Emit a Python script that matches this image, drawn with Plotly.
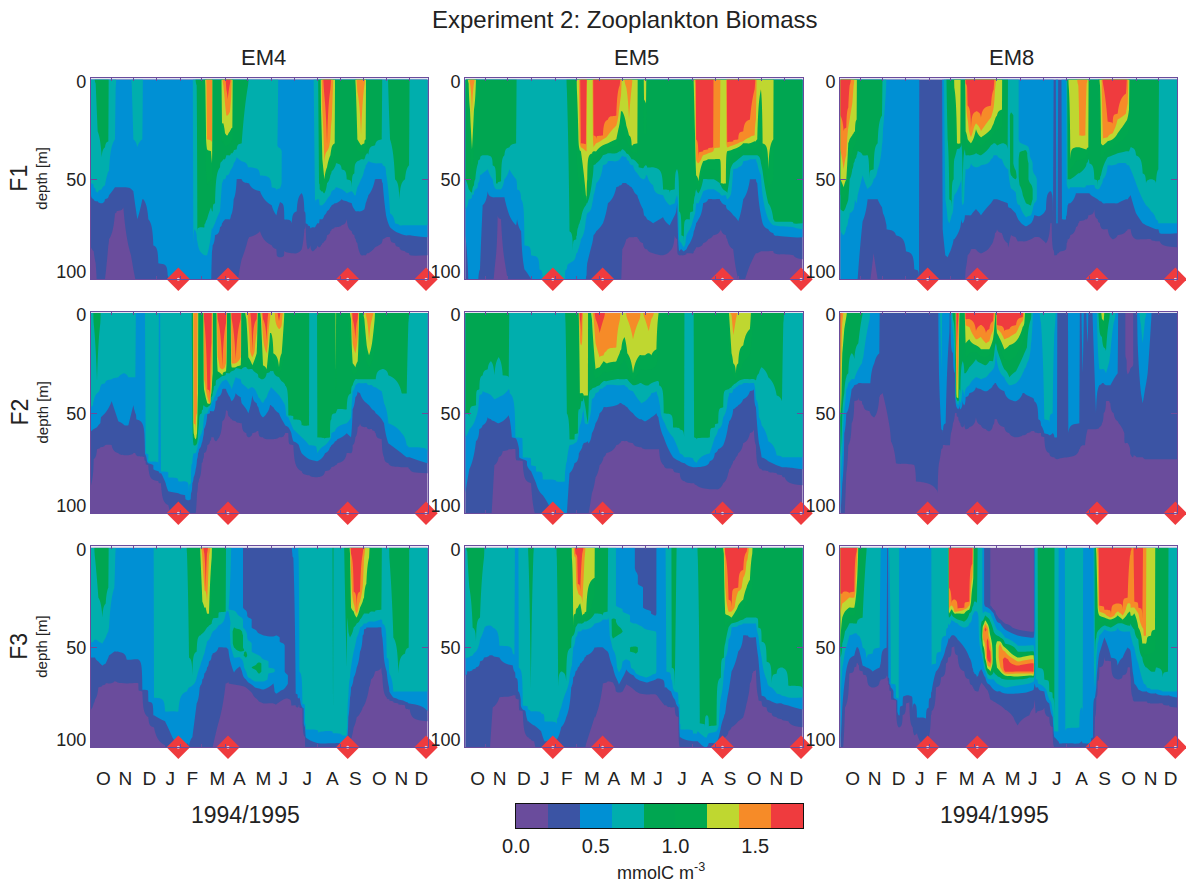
import numpy as np
import plotly.graph_objects as go

TITLE = "Experiment 2: Zooplankton Biomass"
COLUMNS = ["EM4", "EM5", "EM8"]
ROWS = ["F1", "F2", "F3"]
MONTH_LABELS = list("ONDJFMAMJJASOND")
MONTH_LABEL_POS = [55, 121, 193, 256, 322, 397, 463, 535, 595, 667, 742, 811, 883, 949, 1009]
MONTH_TICKS = [78, 145, 215, 287, 350, 420, 488, 558, 627, 697, 767, 835, 905, 973]
CRUISES = [280, 429, 788, 1023]
COLORS = ["#6A4C9C", "#3B54A4", "#0090D4", "#00AEAD", "#00A651", "#00A84F", "#BFD730", "#F68B28", "#EF3B3E"]
# isolines: purple/dkblue, dkblue/blue, blue/teal, teal/green, green/yellow, yellow/orange, orange/red
LEVELS = [0.2, 0.4, 0.6, 0.8, 1.2, 1.4, 1.6]

# each column: time position, then depths [m] of the isolines from the deepest upward
EM4_F1 = [(18,84,58,52),(26,86,60,54),(32,92,61,56,2),(38,110,61,57,26),(50,105,62,55,39),(60,100,60,53,34),(70,83,59,46,31),(72,80,58,46),(90,67,54,30),(92,67,54,4),(95,66,54),(115,64,54),(138,88,55),(140,90,55,2),(145,95,56,30),(157,105,70,34),(172,105,60,30),(175,105,60),(190,105,70),(205,105,83),(220,105,92),(248,105,98),(250,105,105),(322,105,105),(325,105,105,85),(328,105,105,75),(335,105,105,78,3),(337,105,105,81,76),(345,105,105,86,74),(358,105,105,88,74),(361,105,105,88,72,3),(366,105,105,88,70,35,30),(378,105,105,78,64,36,31),(381,105,86,74,66,42,31),(383,105,83,75,66),(390,105,78,72,62),(405,105,74,66,44),(411,105,72,52,41,22),(415,105,71,50,40,22,3),(420,105,70,50,40,27,12),(424,105,70,48,38,28,18,5),(428,105,70,48,38,28,18,10),(435,105,70,46,38,26,16,2),(438,105,68,45,37,25,10),(442,105,66,44,37,24),(446,105,60,42,36),(455,105,50,39,35),(470,90,50,41,32),(489,80,52,44,3),(492,79,52,44),(525,76,56,48),(560,83,63,54),(574,85,68,56),(585,[(0,.5),(33,.5),(36,.7),(52,.7),(57,.5),(66,.3),(88,.3),(90,.1)]),(598,86,70),(620,87,72),(635,87,66),(650,85,57),(658,75,66),(662,72,72),(668,85,73),(676,83,75),(682,86,74),(690,85,74,62),(697,83,72,60),(702,84,72,60,52),(704,84,70,63,55),(708,83,70,63,56,15),(712,82,70,63,56,40,15),(718,81,68,62,57,50,42,8),(726,78,66,60,52,44,36,33),(736,76,64,58,48,38,30,5),(740,75,63,56,46,34,20),(749,74,62,55,44,32),(753,74,62,54,42),(770,73,60,55,45),(785,70,61,57,50),(800,76,62,56,54),(808,78,65,58,47),(812,80,66,58,42,3),(817,82,66,54,41,30,6),(828,88,66,50,40,33,28),(838,88,65,45,40,32,3),(842,88,62,43,38,30),(846,87,60,42,37),(850,87,58,41,38),(870,84,50,42,33),(890,82,50,42,30),(893,80,52,43),(903,79,68,47),(915,79,74,67,30),(930,82,76,72,50),(943,84,77,73,60),(960,86,78,73,50),(972,87,78,73,43),(975,88,78,73),(1028,88,79,73)]

EM5_F1 = [(18,100,78,65,50),(28,105,105,60,55,2),(32,105,105,60,56,15,2),(38,105,105,58,57,35,18),(44,105,105,56,53,15,2),(48,105,105,55,50,8),(56,105,105,52,42),(62,105,95,48,40),(70,105,63,47,38),(85,105,56,45,38),(100,105,59,50,43),(110,88,59,55,52),(115,68,59,55,52),(125,70,59,55,51),(135,90,59,50,38),(150,105,68,45,34),(170,105,73,50,32),(173,105,70,55),(185,105,76,60),(195,105,95,83),(215,105,100,88),(240,105,105,95),(250,105,105,105),(316,105,105,105),(320,105,105,95),(322,105,105,95,5),(330,105,105,92,76),(340,105,105,91,86),(350,105,105,87,80),(352,105,105,87,78,5),(356,105,105,85,74,25),(360,105,105,83,72,35,30),(364,105,103,80,70,36,34,32),(379,105,100,70,63,58,36,33),(381,105,98,68,62,61,36,3),(383,105,92,67,62,50),(398,105,82,62,50,37),(402,105,78,58,43,36,34,28),(410,105,76,52,42,36,32,30),(430,105,72,43,38,33,30,28),(445,105,62,41,37,32,28,20),(470,105,54,41,37,30,23,18),(480,105,53,40,36,22,13,3),(484,105,53,39,36,16,8),(488,85,52,38,35,16),(500,80,52,39,37,23,4),(508,79,53,41,38,28,20),(516,79,54,43,40,33,4),(520,79,55,43,40,33),(533,79,58,47,42,32),(537,80,60,48,44),(550,82,65,50,45),(553,84,68,50,44,10),(559,85,69,48,43,12),(562,85,70,48,44),(580,87,72,53,44),(610,88,69,58,55),(630,86,73,63,57),(645,78,68,62,55),(652,80,62,58,45),(658,88,86,80,66),(665,88,85,82,78),(672,88,86,84,82),(680,87,85,78,70),(690,87,82,75,70),(700,87,78,70,66),(702,86,76,69,62,3),(706,85,74,67,58,30,2),(709,84,72,62,55,48,40,30),(716,84,70,62,57,51,42,40),(730,82,62,56,50,41,38,36),(745,80,60,55,50,40,37,35),(760,78,60,55,50,40,36,34),(762,78,60,55,50,40,35),(780,76,60,57,52,40,34),(783,75,61,58,53,52),(798,78,63,58,56,52),(802,80,65,60,57,36,34,32),(820,85,68,45,42,35,33,31),(835,100,71,44,40,34,32,30),(850,103,60,41,38,32,31,26),(870,93,50,40,38,32,29,20),(884,88,50,40,38,31,28,5),(888,87,50,40,38,31,20),(892,87,52,42,38,30),(903,86,68,48,42,5),(908,86,72,58,46,32),(925,86,75,70,62,45),(940,86,77,73,70,30),(943,87,78,73,71),(1000,88,79,74,72),(1028,90,79,75,72)]

EM8_F1 = [(18,105,105,75,65,50,35,18),(28,105,105,78,66,54,45,26),(36,105,105,74,63,50,38,24),(42,105,105,70,60,32,24,14),(46,105,105,67,50,30,20,3),(54,105,105,66,45,28,12),(58,105,105,65,42,27,3),(62,105,105,60,40,26),(67,105,105,62,38,20),(70,105,100,58,36),(85,105,71,48,38),(100,105,60,55,38),(105,105,60,54,50),(118,87,60,50,45),(130,100,60,45,32),(143,105,64,33,18),(146,105,67,25),(155,105,72,5),(157,105,75),(185,105,78),(215,105,86),(240,105,95),(254,105,100),(256,105),(322,105),(325,105,75),(333,105,88,60),(340,105,89,70,30),(345,105,87,72,60),(352,105,84,68,64),(358,105,80,60,50),(360,105,80,58,40,4),(368,105,78,56,35,32),(378,105,74,52,34,32),(381,105,70,50,32),(385,105,72,63,61),(392,100,68,50,35),(394,95,68,45,38,26,4,2),(400,88,68,45,38,30,20,13),(410,85,68,42,38,32,29,25),(425,85,65,44,37,25,22,16),(440,87,68,43,38,29,26,19),(470,83,62,40,33,25,19,13),(478,80,60,38,32,22,14,5),(482,77,60,38,32,20,5),(488,75,60,38,33,18),(503,77,61,40,32,15),(505,78,61,41,32),(520,82,62,45,35,),(522,84,64,45),(530,[(0,.7),(15,.7),(18,.9),(46,.9),(50,.7),(59,.5),(70,.3),(86,.1)]),(544,[(0,.7),(42,.7),(49,.9),(51,.7),(62,.5),(72,.3),(86,.1)]),(550,[(0,.7),(60,.7),(65,.5),(74,.3),(88,.1)]),(556,[(0,.5),(30,.5),(33,.7),(40,.9),(48,.9),(58,.7),(68,.5),(74,.3),(88,.1)]),(575,[(0,.5),(32,.5),(34,.7),(37,.9),(58,.9),(66,.7),(72,.5),(75,.3),(87,.1)]),(590,[(0,.5),(38,.5),(42,.7),(50,.7),(55,.9),(60,.9),(66,.7),(70,.5),(74,.3),(86,.1)]),(600,[(0,.5),(45,.5),(50,.7),(60,.7),(64,.5),(72,.3),(86,.1)]),(615,[(0,.5),(65,.5),(72,.3),(86,.1)]),(635,82,65),(648,72,56),(652,72,57),(656,85,70),(660,88),(663,88),(666,88,72),(670,87,72),(673,87),(680,86),(683,86,70),(695,85,70),(697,82,68,52),(700,80,63,54,50),(703,80,62,55,50,3),(708,78,62,54,50,40),(725,74,57,54,48,34),(732,72,57,54,47,34,3),(735,71,57,54,47,34,28),(753,70,57,54,44,35,28),(757,70,57,53,42,35,2),(762,68,57,53,40,34),(765,68,57,53,42),(780,65,59,53,50),(790,70,60,55,54),(797,72,61,54,50,3),(800,74,61,53,48,32),(806,75,62,50,44,33,30,2),(820,75,62,43,39,31,29,21),(835,80,62,43,38,30,27,22),(850,78,62,42,37,27,20,17),(875,76,60,42,36,21,17,7),(880,75,60,43,36,19,12),(884,75,59,43,36,15),(889,75,58,45,34),(905,80,67,52,38),(925,80,72,60,47),(935,80,73,63,52),(950,80,74,66,50),(965,81,75,70,52),(972,81,75,72,45),(976,81,77,72),(1028,84,77,72)]

EM4_F2 = [(18,86,59,48),(24,80,58,46),(26,73,58,44,5),(36,68,57,40,34),(46,67,55,37,5),(48,67,52,36),(60,66,50,35),(80,66,44,33),(100,70,54,32),(118,71,56,30),(130,71,56,32),(145,70,46,32),(151,70,50,32),(154,71,53),(178,72,60),(182,74,71,70),(190,76,75,74),(220,84,79,78),(223,85,80),(228,85,80,79),(250,96,89,82),(280,105,90,84),(300,105,91,84),(312,105,92,93),(318,105,90,85),(322,105,85,75,35),(326,105,82,70,66,60,55),(332,100,78,70,66,63,62),(336,90,73,68,65,60,50),(339,85,70,66,60,40),(342,83,68,64,55),(350,75,65,60,50),(354,73,62,58,48),(357,70,58,52,46,38,33,3),(367,66,50,50,47,45,42,38),(375,64,49,47,46,45,45,44),(379,62,49,45,42,40,36,15),(383,62,49,44,40,30),(386,62,49,43,38),(392,64,44,41,36),(398,63,42,38,33,29,22,3),(412,54,38,34,31,31,28,27),(423,48,38,33,30,29,25,5),(428,49,40,34,30),(435,52,42,36,30),(440,53,44,38,29,27,25,3),(452,54,40,32,27,27,25,23),(467,55,42,33,28,26,22,3),(470,55,45,35,28),(484,60,48,37,27,3),(490,62,50,38,28,22,5),(502,60,41,37,28,26,22,19),(515,59,45,40,30,20,10,3),(520,59,47,42,32),(528,62,51,44,33,3),(534,62,52,45,33,26,12,3),(545,63,50,42,30,28,20,14),(555,63,46,38,29,10,3),(558,63,46,37,29,10),(565,63,47,38,29,20),(582,62,50,41,32,27,8,4),(590,62,53,43,34,20,6),(597,61,55,45,35,3),(600,60,56,46,36),(610,60,57,52,51),(625,66,64,58,53),(650,79,70,62,56),(672,81,73,66,56),(673,81,73,66),(695,82,74,68),(697,82,74,70,62),(720,79,70,66,63),(735,78,67,63,62),(739,77,66,60,53),(750,76,64,59,50),(752,76,64,58,50,30),(757,75,63,57,48),(785,70,60,55,48),(798,70,62,52,40,3),(803,66,48,39,36,25,15,3),(811,62,42,36,33,27,20,13),(818,57,39,35,33,24,12,3),(825,55,40,35,33),(838,57,44,35,33,3),(845,57,45,35,33,16,3),(852,58,46,36,33,21,15),(861,58,48,36,33,15,3),(869,59,49,37,33,3),(872,60,50,37,33),(890,63,53,39,28),(897,72,55,45,28),(910,75,65,55,31),(950,77,70,60,40),(965,77,72,66,40),(970,77,72,67,5),(974,78,72,67),(1028,80,75,70)]

EM5_F2 = [(18,105,90,62,50),(30,105,78,58,52),(50,105,64,52,46),(60,105,58,41,38),(70,105,56,39,31),(85,105,52,40,28),(95,105,53,41,24),(105,76,54,43,31),(118,72,55,42,22),(130,69,54,41,31),(148,68,51,38,32),(151,68,53,40),(168,68,62,62),(190,74,73,72),(215,85,79,76),(230,102,85,79),(250,105,91,83),(290,105,105,84),(316,105,105,84),(318,105,105,78,5),(322,105,100,74,50),(330,105,80,66,63),(345,105,75,65,63),(355,105,73,62,60),(358,105,70,58,48,3),(361,105,69,56,48,40,10,3),(365,105,68,54,44,40,16,12),(369,105,66,50,44,40,4),(372,105,65,48,42,41),(385,103,64,55,55,41),(387,100,65,54,48),(397,90,60,43,38,3),(408,82,55,40,37,28,15,3),(420,76,50,38,36,27,22,10),(432,72,47,37,34,24,21,3),(440,70,47,36,34,25,19),(470,66,46,36,33,24,17),(480,65,45,36,33,20,4),(485,64,45,36,33,18),(495,64,46,36,33,12),(503,64,47,37,33,20,3),(520,65,50,39,36,30,13),(540,67,53,44,35,21,3),(545,67,53,45,35,21),(556,68,54,44,36,21,3),(567,68,53,42,36,20,9),(575,68,52,40,35,21,3),(590,68,50,39,34,18),(596,68,52,42,34,1),(598,68,54,44,36),(612,76,62,54,50),(640,78,72,62,57),(660,80,74,70,58),(673,84,75,72,62),(675,84,75,72),(700,85,77,73),(703,85,77,74,62),(710,86,77,75,63),(750,88,74,70,62),(765,88,70,62,57),(775,88,68,58,55),(790,85,66,52,47),(805,80,56,42,38),(808,78,54,40,38,2),(815,76,52,40,37,20,1),(820,74,48,38,36,25,11),(828,72,47,37,35,30,3),(835,70,46,36,34,25),(850,65,43,35,33,16),(870,60,39,35,33,8),(882,58,38,35,33),(888,66,47,43,34),(897,77,65,52,30),(905,78,72,56,27),(925,79,74,64,32),(950,80,76,71,41),(966,81,77,72,44),(970,82,77,72,5),(974,82,77,72),(1028,86,78,72)]

EM8_F2 = [(18,105,100,88,72,52,48,40),(24,105,85,70,50,20,5),(30,105,60,48,40,8),(36,80,50,38,32,2),(42,66,48,35,30),(52,55,38,33,20),(60,44,36,33,23),(72,42,35,28,15),(83,44,35,25,2),(87,46,35,22),(106,49,35,3),(108,50,35),(120,52,25),(135,42,20),(137,41),(145,40),(165,56),(170,64),(185,75),(240,76),(245,84),(305,88),(310,90),(314,75,30),(321,68,58,28),(326,66,60),(334,66,55),(345,66,10),(347,66),(350,60,15),(356,55,20,10,3),(362,50,30,25,15),(367,50,47,45,43,42,40,20),(372,52,48,46,44,43,25,3),(375,54,46,42,38,3),(378,55,48,45,42),(385,57,44,38,24),(390,55,46,42,30),(394,58,42,38,30,15,6,3),(405,57,40,36,27,13,7,3),(425,52,37,32,23,16,13,9),(440,56,38,33,25,18,12,6),(455,58,39,32,26,18,15,10),(465,59,38,30,24,18,14,8),(476,56,36,28,24,13,9,4),(481,53,35,26,18,5,2),(485,53,35,18,15),(488,53,36,24,18,10,8,6),(510,57,39,32,28,18,13,9),(525,60,43,36,32,16,12,8),(545,62,44,35,29,14,10,6),(565,61,40,30,22,7,4,2),(570,61,40,28,20,5),(578,60,41,25,17),(590,59,42,15,3),(592,59,42,12),(600,59,44),(612,60,53),(620,60,56,5),(630,62,60,53),(645,70,61,55),(655,72,60,50),(660,72,62,10),(668,73,62),(670,73),(700,72),(702,72,60),(735,68,55),(738,67),(745,66,30),(752,66),(760,58,15),(764,58),(785,58,50),(795,57,36,28,8),(803,55,35,28,12,3),(808,50,35,28,17,4),(815,44,36,30,19),(825,44,36,24,3),(828,45,36,20),(838,50,33,5),(850,54,30),(853,55),(870,60),(872,[(0,.3),(63,.3),(67,.1)]),(874,[(0,.1),(20,.1),(24,.3),(63,.3),(67,.1)]),(880,[(0,.1),(28,.1),(33,.3),(62,.3),(68,.1)]),(895,[(0,.1),(25,.1),(28,.3),(70,.3),(74,.1)]),(898,71),(907,72),(910,72,15),(920,72,40,6),(925,72,45,15),(932,73,38,3),(940,73,30),(950,73,5),(953,73),(1028,73)]

EM4_F3 = [(18,81,55,48),(26,78,55,47),(30,76,55,46,5),(40,70,57,47,25),(52,69,59,48,35),(62,68,58,45,28),(70,68,55,42,20),(72,68,54,40),(88,67,52,20),(91,67,52,3),(93,67,52),(125,68,56),(160,68,56),(172,72,71),(190,85,77),(205,90,84),(207,90,84,75),(240,99,87,82),(262,105,95,82),(280,105,105,82),(304,105,100,72),(306,105,98,72,3),(312,105,100,70,55),(322,105,95,69,64),(335,105,78,65,52),(344,105,70,60,44),(346,105,69,59,44,3),(352,105,66,56,43,27,5),(358,105,63,53,42,30,20,3),(362,105,62,50,41,30,22,21),(366,105,60,47,40,33,28,3),(372,105,57,46,39,33,4),(380,105,54,43,38,5),(383,100,53,42,36),(400,88,50,39,35),(422,68,50,33,32),(424,68,50,32),(430,67,51,32),(447,[(0,.5),(30,.5),(33,.7),(38,.7),(42,.9),(48,.9),(52,.7),(58,.5),(67,.3),(70,.1)]),(465,[(0,.5),(33,.5),(36,.7),(40,.7),(42,.9),(51,.9),(53,.7),(57,.5),(62,.3),(68,.3),(70,.1)]),(483,[(0,.3),(30,.3),(33,.5),(40,.5),(44,.7),(50,.7),(54,.9),(56,.7),(60,.7),(64,.5),(68,.3),(72,.1)]),(490,[(0,.3),(34,.3),(36,.5),(45,.5),(48,.7),(64,.7),(66,.5),(69,.3),(73,.1)]),(510,[(0,.3),(40,.3),(42,.5),(52,.5),(54,.7),(58,.7),(60,.9),(62,.7),(66,.7),(68,.5),(72,.3),(78,.1)]),(522,[(0,.3),(42,.3),(44,.5),(53,.5),(55,.7),(57,.7),(58,.9),(62,.9),(64,.7),(66,.7),(68,.5),(73,.3),(81,.1)]),(536,[(0,.3),(43,.3),(45,.5),(55,.5),(57,.7),(66,.7),(68,.5),(74,.3),(82,.1)]),(565,[(0,.3),(43,.3),(46,.5),(60,.5),(61,.7),(62,.7),(63,.5),(73,.3),(83,.1)]),(573,[(0,.3),(43,.3),(45,.5),(72,.5),(74,.3),(83,.1)]),(595,[(0,.3),(47,.3),(49,.5),(70,.5),(72,.3),(80,.1)]),(603,[(0,.3),(62,.3),(64,.5),(68,.5),(71,.3),(80,.1)]),(619,79),(622,79,3),(625,79,5),(632,79,73),(638,80,75),(641,79,76,5),(643,79,75,62),(652,80,80,78),(660,95,90,88),(662,105,95,91),(700,105,98,93),(741,105,98,92),(744,105,98,93,81),(747,105,98,93),(770,105,98,94),(785,105,100,94,60),(787,103,95,90,35),(790,100,85,75,42),(795,97,75,65,45,3),(798,96,70,60,44,30,12,3),(806,90,65,52,40,32,28,22),(815,85,60,45,38,35,33,31),(825,83,52,40,36,30,27,22),(833,80,44,39,34,27,20,3),(837,79,41,38,33,25,5),(844,76,40,38,33,18),(852,70,40,37,33,5),(858,66,40,37,32),(870,62,40,37,32),(889,60,40,36,31),(892,64,45,38),(905,75,62,55),(912,76,70,62),(913,76,72,63,5),(925,77,75,72,45),(940,78,76,72,63),(960,79,77,72,53),(971,81,78,72,50),(974,81,78,72),(1028,87,82,72)]

EM5_F3 = [(18,105,64,57),(24,105,62,55,2),(30,105,62,55,20),(40,105,61,54,40),(50,105,60,52,47),(62,105,57,46,35),(74,105,55,41,5),(76,105,55,40),(90,105,54,39),(100,80,54,40),(120,75,55,49),(160,74,59,53),(165,74,62,55),(168,74,65),(176,76,72),(178,76,72,60),(190,82,81,79),(205,95,87,81),(207,95,87,81,5),(214,96,88,82,71),(222,97,89,82,3),(224,97,89,82),(245,105,92,83),(255,105,97,87),(290,105,96,88),(292,105,96,88,5),(296,105,95,85,70),(305,105,90,80,62),(320,105,85,72,67),(335,105,70,60,50),(337,105,69,59,45,5),(341,105,65,50,44,40),(348,105,62,45,40,33,5,3),(355,105,60,42,38,30,22,18),(362,105,58,42,38,28,24,22),(368,105,57,41,38,34,28,3),(375,103,55,41,37,33,5),(380,98,54,41,37,32),(405,85,50,38,33,15),(407,85,50,38,33),(430,68,50,36,34),(444,67,52,36,32),(447,67,53,35),(460,[(0,.7),(35,.7),(36,.9),(44,.9),(47,.7),(55,.5),(65,.3),(70,.1)]),(478,[(0,.5),(29,.5),(31,.7),(37,.7),(42,.9),(45,.7),(60,.7),(65,.5),(72,.3),(73,.1)]),(500,[(0,.5),(32,.5),(34,.7),(55,.7),(57,.5),(65,.3),(72,.1)]),(522,[(0,.5),(37,.5),(39,.7),(49,.7),(50,.9),(52,.9),(53,.7),(60,.7),(62,.5),(66,.3),(76,.1)]),(529,[(0,.3),(10,.3),(14,.5),(37,.5),(39,.7),(49,.7),(50,.9),(52,.9),(54,.7),(62,.7),(64,.5),(67,.3),(77,.1)]),(540,[(0,.3),(18,.3),(20,.5),(38,.5),(40,.7),(63,.7),(65,.5),(68,.3),(78,.1)]),(560,[(0,.3),(30,.3),(32,.5),(40,.5),(42,.7),(64,.7),(66,.5),(69,.3),(78,.1)]),(588,[(0,.3),(33,.3),(35,.5),(41,.5),(43,.7),(62,.7),(64,.5),(68,.3),(79,.1)]),(592,[(0,.5),(62,.5),(69,.3),(79,.1)]),(615,79,70),(620,79,70,62),(634,80,72,66),(636,80,73,66,60),(645,80,76,72,70),(656,85,80,78),(660,100,95,88),(662,105,95,91),(700,105,97,93),(712,105,97,93),(714,105,97,92,5),(720,105,98,93,88),(735,105,100,95,90),(741,105,100,95,84),(747,105,98,93,90),(770,105,98,92,89),(783,100,90,75,65),(792,96,85,62,55,3),(796,95,83,55,48,33,20,3),(806,92,72,46,40,34,32,26),(815,90,62,40,38,35,32,30),(835,87,52,39,37,29,22,20),(850,85,44,38,36,26,15,11),(860,78,44,38,35,20,7,2),(864,75,44,38,35,18,4),(870,68,45,38,35,16),(877,63,45,38,35,3),(880,62,45,38,35),(888,61,45,38,35),(895,75,55,44,40),(905,77,74,55,47),(920,80,76,66,57),(935,83,77,70,68),(950,85,78,73,63),(965,86,78,74,60),(985,87,79,75,69),(1028,90,81,75,71)]

EM8_F3 = [(18,105,100,80,55,49,35,23),(24,105,80,60,48,35,28,23),(32,80,66,52,42,32,27,22),(45,63,56,44,38,30,25,23),(60,60,54,43,38,30,25,22),(67,58,50,43,38,20,10,2),(71,58,50,44,36,5),(74,59,51,44,36),(85,62,59,50,35),(96,64,60,55,3),(98,65,60,55),(115,70,62,53),(136,67,60,50),(139,66,58,5),(140,66,57),(157,64,50),(160,65),(162,67,65),(165,69,68,5),(170,72,70,68),(185,76,76,75),(193,90,84,82),(196,90,84),(205,84,79),(215,78,74),(225,77,74),(235,90,82),(240,94,78),(248,93,85),(275,100,86),(283,95,80),(290,84,75),(292,82,72,60),(305,70,62,58),(320,65,57,52),(335,58,50,44),(341,55,47,40),(343,55,45,38,30),(344,55,46,39,35,33,32,20),(352,50,44,36,33,31,29,28),(360,49,44,37,35,33,32,26),(370,54,46,38,36,33,32,31),(390,62,50,40,37,33,31,30),(405,66,55,38,33,31,29,27),(414,69,60,34,30,20,15,8),(417,70,62,33,29,15),(420,71,63,32,27),(428,72,65,32,28),(432,72,64,34),(442,[(0,.7),(34,.7),(40,.9),(45,.9),(50,.7),(57,.5),(65,.3),(70,.1)]),(446,[(0,.5),(30,.5),(36,.7),(37,.9),(40,1.3),(44,1.5),(48,1.3),(52,.9),(54,.7),(59,.5),(66,.3),(71,.1)]),(453,[(0,.3),(28,.3),(31,.5),(33,.7),(35,.9),(37,1.3),(39,1.5),(41,1.7),(43,1.5),(50,1.4),(55,1.3),(58,.9),(61,.7),(63,.5),(67,.3),(73,.1)]),(460,[(0,.3),(29,.3),(31,.5),(34,.7),(36,.9),(39,1.3),(41,1.5),(44,1.5),(47,1.7),(55,1.7),(58,1.5),(60,1.3),(62,.9),(64,.7),(67,.5),(69,.3),(74,.1)]),(468,[(0,.2),(29,.2),(31,.4),(33,.6),(37,.8),(44,1.2),(48,1.4),(52,1.6),(56,1.7),(58,1.6),(60,1.4),(62,1.2),(64,.8),(66,.6),(69,.4),(76,.2),(78,.1)]),(478,[(0,.1),(30,.1),(31,.2),(33,.4),(37,.6),(42,.8),(48,1.0),(58,1.0),(62,.8),(66,.6),(71,.4),(77,.2),(79,.1)]),(488,[(0,.1),(33,.1),(34,.2),(37,.4),(41,.6),(44,.8),(47,1.2),(49,1.3),(55,1.3),(60,1.2),(64,.8),(68,.6),(72,.4),(78,.2),(81,.1)]),(498,[(0,.1),(35,.1),(36,.2),(38,.4),(42,.6),(45,.8),(47,1.2),(48,1.4),(50,1.5),(55,1.5),(60,1.4),(62,1.2),(65,.8),(69,.6),(72,.4),(79,.2),(82,.1)]),(512,[(0,.1),(37,.1),(38,.2),(41,.4),(45,.6),(48,.8),(50,1.2),(52,1.4),(55,1.6),(56,1.7),(61,1.7),(62,1.6),(63,1.4),(64,1.2),(66,.8),(70,.6),(73,.4),(81,.2),(85,.1)]),(550,[(0,.1),(40,.1),(41,.2),(44,.4),(49,.6),(52,.8),(55,1.2),(57,1.4),(59,1.6),(60,1.7),(61,1.7),(62,1.6),(63,1.4),(64.5,1.2),(66,.8),(69,.6),(73,.4),(89,.2),(92,.1)]),(585,[(0,.1),(41,.1),(42,.2),(45,.4),(49,.6),(52,.8),(54,1.2),(56,1.4),(58,1.6),(59,1.7),(61,1.7),(62,1.6),(63,1.4),(64,1.2),(65,.8),(68,.6),(72,.4),(84,.2),(88,.1)]),(598,[(0,.1),(41,.1),(42,.2),(45,.4),(49,.6),(52,.8),(54,1.2),(56,1.4),(58,1.6),(59,1.7),(60,1.7),(62,1.6),(63,1.4),(64,1.2),(65,.8),(67,.6),(71,.4),(80,.2),(84,.1)]),(601,[(0,.5),(66,.5),(70,.3),(82,.1)]),(604,83,70,66),(609,82,70,66),(611,82,70,68,60),(630,80,72,70,66),(645,85,78,76,72),(655,90,85,82,75),(660,100,95,92,88),(661,100,95,92),(672,105,97,92),(674,105,98),(690,105,98),(693,105,98,92),(735,105,98,90),(742,105,97,80),(745,105,98,85),(748,105,98),(770,105,98),(776,100,95),(782,85,75,70,60),(786,75,70,55,45,3),(790,67,60,48,42,30,5),(795,60,53,44,41,34,32,29),(810,54,45,41,39,35,33,31),(830,57,55,42,40,36,35,34),(850,66,59,40,38,34,32,28),(865,64,55,42,38,36,34,31),(880,60,50,42,39,33,28,25),(887,60,51,42,39,32,28,4),(889,65,52,44,38,34,30,2),(895,75,62,48,40,34,30),(900,77,68,50,41,33,30,27),(912,77,71,58,46,40,33,30),(924,77,72,66,55,48,40,36),(928,77,72,68,58,48,44),(935,77,72,69,60,48,44),(937,77,72,70,60,47),(950,78,73,71,62,44),(962,78,73,71,62,41),(965,78,73,71,60),(985,78,74,72,65),(1001,79,74,72,62),(1004,79,74,72),(1028,80,75,72)]

PANELS = [[EM4_F1, EM5_F1, EM8_F1], [EM4_F2, EM5_F2, EM8_F2], [EM4_F3, EM5_F3, EM8_F3]]

W, H = 1186, 883
COL_PX = [(91, 427.7), (465.3, 802.7), (840.3, 1177)]
ROW_PX = [(78, 279.3), (311.7, 513.3), (546.3, 747.3)]
BAR_PX = (516, 803, 804, 828)
COL_TITLE_PX = [263, 636, 1011]
FRAME = "#6A4C9C"
FONT = "Liberation Sans"
DEPTH = np.arange(0, 100.01, 0.5)


def column_values(col):
    rest = col[1:]
    if rest and isinstance(rest[0], list):
        pts = list(rest[0]) + [(130, rest[0][-1][1])]
    else:
        n = len(rest)
        pts = [(0, LEVELS[n - 1] + 0.1 if n else 0.1)]
        pts += [(rest[i], LEVELS[i]) for i in range(n - 1, -1, -1)]
        pts.append((130, 0.0))
    ds, zs = [], []
    for d, z in pts:
        d = max(d, ds[-1] + 0.01) if ds else d
        ds.append(d)
        zs.append(z)
    return np.interp(DEPTH, ds, zs)


def note(text, xp, yp, size, angle=0):
    return dict(text=text, x=xp / W, y=1 - yp / H, xref="paper", yref="paper", xanchor="center", yanchor="middle",
                textangle=angle, showarrow=False, font=dict(family=FONT, size=size, color="#222"))


scale = [[i / 8, c] for i, c in enumerate(COLORS)]
fig = go.Figure()
layout = {}
annotations = []
counter = 0
for r, (y0, y1) in enumerate(ROW_PX):
    for c, (x0, x1) in enumerate(COL_PX):
        counter += 1
        sfx = "" if counter == 1 else str(counter)
        cols = {col[0]: col for col in PANELS[r][c]}
        ts = sorted(cols)
        z = np.column_stack([column_values(cols[t]) for t in ts])
        fig.add_trace(go.Contour(
            x=ts, y=DEPTH, z=z, xaxis="x" + sfx, yaxis="y" + sfx,
            autocontour=False, contours=dict(start=0.2, end=1.6, size=0.2, coloring="fill"),
            colorscale=scale, line=dict(width=0), showscale=False, hoverinfo="skip"))
        fig.add_trace(go.Scatter(
            x=CRUISES, y=[100] * 4, xaxis="x" + sfx, yaxis="y" + sfx, mode="markers", cliponaxis=False,
            marker=dict(symbol="diamond", size=18, color="#EF3B3E"), hoverinfo="skip", showlegend=False))
        fig.add_trace(go.Scatter(
            x=CRUISES, y=[100] * 4, xaxis="x" + sfx, yaxis="y" + sfx, mode="markers", cliponaxis=False,
            marker=dict(symbol="circle", size=3, color="#D9D3E6"), hoverinfo="skip", showlegend=False))
        xa = dict(domain=[x0 / W, x1 / W], range=[18, 1028], anchor="y" + sfx, automargin=False,
                  showgrid=False, zeroline=False, showline=True, linecolor=FRAME, linewidth=1.2, mirror="ticks",
                  tickmode="array", ticks="", tickvals=MONTH_LABEL_POS, ticktext=MONTH_LABELS,
                  showticklabels=r == 2, ticklabelstandoff=14, tickfont=dict(family=FONT, size=19, color="#222"),
                  minor=dict(tickmode="array", tickvals=MONTH_TICKS, ticks="inside", ticklen=3, tickcolor=FRAME, tickwidth=1, showgrid=False))
        ya = dict(domain=[1 - y1 / H, 1 - y0 / H], range=[100, -0.7], anchor="x" + sfx, automargin=False,
                  showgrid=False, zeroline=False, showline=True, linecolor=FRAME, linewidth=1.2, mirror="ticks",
                  tickmode="array", tickvals=[1, 50, 96], ticktext=["0", "50", "100"], ticks="",
                  tickfont=dict(family=FONT, size=18, color="#222"),
                  minor=dict(tickmode="array", tickvals=[50], ticks="inside", ticklen=6, tickcolor=FRAME, tickwidth=1, showgrid=False))
        layout["xaxis" + sfx] = xa
        layout["yaxis" + sfx] = ya

for c, name in enumerate(COLUMNS):
    annotations.append(note(name, COL_TITLE_PX[c], 57, 22))
for r, name in enumerate(ROWS):
    ymid = (ROW_PX[r][0] + ROW_PX[r][1]) / 2
    annotations.append(note(name, 19, ymid, 23, -90))
    annotations.append(note("depth [m]", 42, ymid, 15, -90))
annotations.append(note(TITLE, 625, 19, 24))
for xp in (245, 994):
    annotations.append(note("1994/1995", xp, 815, 23))
annotations.append(note("mmolC m<sup>-3</sup>", 661, 871, 18))

BAR_CENTERS = [0.1, 0.3, 0.5, 0.7, 0.9, 1.1, 1.3, 1.5, 1.7]
fig.add_trace(go.Heatmap(x=BAR_CENTERS, y=[0], z=[list(range(9))], zmin=0, zmax=8, colorscale=scale,
                         showscale=False, xaxis="x10", yaxis="y10", hoverinfo="skip"))
layout["xaxis10"] = dict(domain=[BAR_PX[0] / W, BAR_PX[1] / W], range=[0, 1.8], anchor="y10", showgrid=False, zeroline=False,
                         automargin=False, showline=True, linecolor="#111", linewidth=1.2, mirror=True, tickmode="array",
                         tickvals=[0, 0.5, 1, 1.5], ticktext=["0.0", "0.5", "1.0", "1.5"],
                         ticks="", ticklabelstandoff=0, tickfont=dict(family=FONT, size=20, color="#222"))
layout["yaxis10"] = dict(domain=[1 - BAR_PX[3] / H, 1 - BAR_PX[2] / H], range=[-0.5, 0.5], anchor="x10", showgrid=False,
                         automargin=False, zeroline=False, showline=True, linecolor="#111", linewidth=1.2, mirror=True, showticklabels=False, ticks="")

fig.update_layout(width=W, height=H, margin=dict(l=0, r=0, t=0, b=0), paper_bgcolor="white", plot_bgcolor="#E4E0EE",
                  showlegend=False, annotations=annotations, **layout)
fig.write_html("out.html", post_script="document.body.style.margin='0';", config={"displayModeBar": False})
